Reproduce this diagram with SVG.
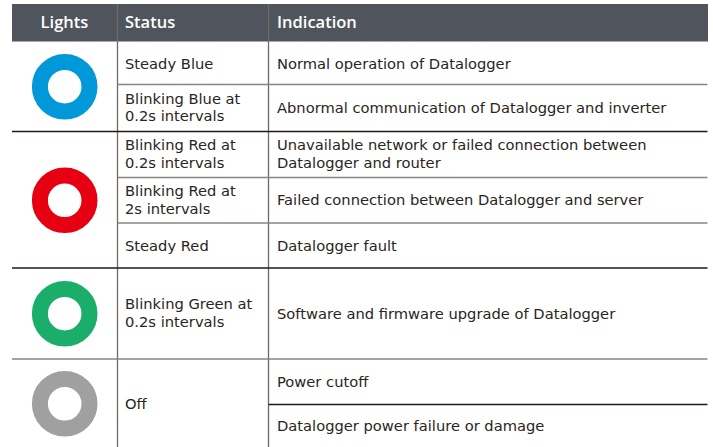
<svg xmlns="http://www.w3.org/2000/svg" width="713" height="447" viewBox="0 0 713 447">
<style>
.t{font-family:"DejaVu Sans","Liberation Sans",Arial,sans-serif;font-size:14.7px;fill:#2a2522}
.h{font-family:"Open Sans","Liberation Sans",Arial,sans-serif;font-size:16.5px;fill:#ffffff;font-weight:600}
.sec{stroke:#231815;stroke-width:1.3}
.row{stroke:#8a8580;stroke-width:1.3}
.v{stroke:#6e6a66;stroke-width:1.3}
.ring{fill:none;stroke-width:16}
</style>
<rect width="713" height="447" fill="#ffffff"/>
<g id="header">
<rect x="12" y="4" width="696" height="37.5" fill="#50555d"/>
<text class="h" x="64.5" y="28" text-anchor="middle">Lights</text>
<text class="h" x="125" y="28">Status</text>
<text class="h" x="277" y="28">Indication</text>
</g>
<g id="grid">
<line class="v" x1="117.5" y1="4" x2="117.5" y2="447"/>
<line class="v" x1="268.5" y1="4" x2="268.5" y2="447"/>
<line class="row" x1="117.5" y1="84.5" x2="707.5" y2="84.5"/>
<line class="sec" x1="12" y1="131.5" x2="707.5" y2="131.5"/>
<line class="row" x1="117.5" y1="177.5" x2="707.5" y2="177.5"/>
<line class="row" x1="117.5" y1="223" x2="707.5" y2="223"/>
<line class="sec" x1="12" y1="268" x2="707.5" y2="268"/>
<line class="row" x1="12" y1="359" x2="707.5" y2="359"/>
<line class="sec" x1="268.5" y1="404.5" x2="707.5" y2="404.5"/>
</g>
<g id="blue">
<circle class="ring" cx="64.7" cy="86.7" r="24.8" stroke="#0098d8"/>
<text class="t" x="125" y="68.5">Steady Blue</text>
<text class="t" x="277" y="68.5">Normal operation of Datalogger</text>
<text class="t" x="125" y="103.6"><tspan x="125" y="103.6">Blinking Blue at</tspan><tspan x="125" y="121.4">0.2s intervals</tspan></text>
<text class="t" x="277" y="113">Abnormal communication of Datalogger and inverter</text>
</g>
<g id="red">
<circle class="ring" cx="64.7" cy="200.3" r="24.8" stroke="#e60012"/>
<text class="t" x="125" y="150.4"><tspan x="125" y="150.4">Blinking Red at</tspan><tspan x="125" y="168.2">0.2s intervals</tspan></text>
<text class="t" x="277" y="150.4"><tspan x="277" y="150.4">Unavailable network or failed connection between</tspan><tspan x="277" y="168.2">Datalogger and router</tspan></text>
<text class="t" x="125" y="195.6"><tspan x="125" y="195.6">Blinking Red at</tspan><tspan x="125" y="213.9">2s intervals</tspan></text>
<text class="t" x="277" y="204.5">Failed connection between Datalogger and server</text>
<text class="t" x="125" y="250.7">Steady Red</text>
<text class="t" x="277" y="250.7">Datalogger fault</text>
</g>
<g id="green">
<circle class="ring" cx="64.7" cy="313.7" r="24.8" stroke="#1aae6a"/>
<text class="t" x="125" y="309.2"><tspan x="125" y="309.2">Blinking Green at</tspan><tspan x="125" y="327.2">0.2s intervals</tspan></text>
<text class="t" x="277" y="319.3">Software and firmware upgrade of Datalogger</text>
</g>
<g id="gray">
<circle class="ring" cx="64.7" cy="403.8" r="24.8" stroke="#a0a0a0"/>
<text class="t" x="125" y="409">Off</text>
<text class="t" x="277" y="386.7">Power cutoff</text>
<text class="t" x="277" y="430.7">Datalogger power failure or damage</text>
</g>
</svg>
